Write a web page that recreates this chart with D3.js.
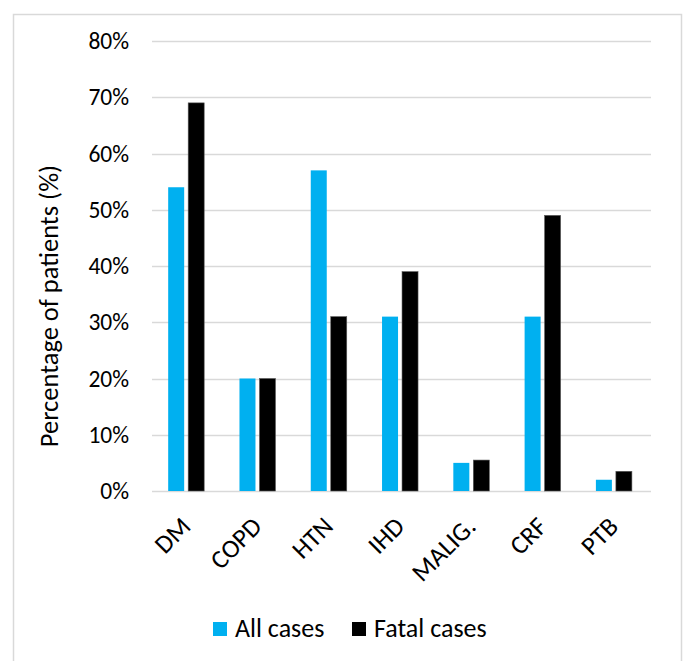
<!DOCTYPE html>
<html>
<head>
<meta charset="utf-8">
<script src="https://cdn.jsdelivr.net/npm/d3@7"></script>
<style>
  html, body { margin: 0; padding: 0; background: #fff; }
  svg { display: block; }
  text { font-family: Carlito, Lato, "Open Sans", sans-serif; fill: #000; }
</style>
</head>
<body>
<script>
// Comorbidities among all admitted patients vs. fatal cases
const categories = ["DM", "COPD", "HTN", "IHD", "MALIG.", "CRF", "PTB"];
const seriesNames = ["All cases", "Fatal cases"];
const allCases = [54, 20, 57, 31, 5, 31, 2];
const fatalCases = [69, 20, 31, 39, 5.5, 49, 3.5];
const yTicks = [0, 10, 20, 30, 40, 50, 60, 70, 80];
const colors = ["#00B0F0", "#000000"];

const W = 684, H = 661;
const FONT = "Carlito, Lato, 'Open Sans', sans-serif";
const margin = { left: 152, right: 33, top: 41 };
const baseY = 491;

const svg = d3.select("body").append("svg")
  .attr("width", W).attr("height", H);

// chart frame
svg.append("rect")
  .attr("x", 13.5).attr("y", 14.5)
  .attr("width", 668).attr("height", 660)
  .attr("fill", "#fff").attr("stroke", "#d9d9d9").attr("stroke-width", 1.5);

const x = d3.scaleBand().domain(categories)
  .range([margin.left, W - margin.right]).paddingInner(0).paddingOuter(0);
const y = d3.scaleLinear().domain([0, 80]).range([baseY, margin.top]);
const bw = x.bandwidth();
const xs = d3.scaleBand().domain(seriesNames)
  .range([bw * 0.227, bw * 0.732]).paddingInner(0.2).paddingOuter(0);

// gridlines
svg.append("g")
  .selectAll("line").data(yTicks).join("line")
  .attr("x1", margin.left).attr("x2", W - margin.right)
  .attr("y1", d => Math.round(y(d)) + 0.5).attr("y2", d => Math.round(y(d)) + 0.5)
  .attr("stroke", "#d9d9d9").attr("stroke-width", 1.5);

// y axis labels
const yAxis = d3.axisLeft(y).tickValues(yTicks).tickFormat(d => d + "%").tickSize(0).tickPadding(0);
const gy = svg.append("g").attr("transform", `translate(${margin.left - 23},0)`).call(yAxis);
gy.select(".domain").remove();
gy.selectAll("text").style("font-size", "23.5px").style("font-family", FONT).attr("fill", "#000");

// bars
const series = [allCases, fatalCases];
series.forEach((vals, si) => {
  svg.append("g").selectAll("rect").data(vals).join("rect")
    .attr("x", (d, i) => x(categories[i]) + xs(seriesNames[si]))
    .attr("width", xs.bandwidth())
    .attr("y", d => y(d))
    .attr("height", d => y(0) - y(d))
    .attr("fill", colors[si])
    .attr("stroke", si === 1 ? "#595959" : "none")
    .attr("stroke-width", si === 1 ? 0.6 : 0);
});

// x axis labels, rotated 45°
const xAxis = d3.axisBottom(x).tickSize(0).tickPadding(0);
const gx = svg.append("g").attr("transform", `translate(0,${y(0)})`).call(xAxis);
gx.select(".domain").remove();
gx.selectAll("text")
  .style("font-size", "26px").style("font-family", FONT)
  .attr("fill", "#000")
  .attr("text-anchor", "end")
  .attr("dy", null)
  .attr("y", 0)
  .attr("transform", "translate(4.5,37) rotate(-45)");

// y axis title
svg.append("text")
  .attr("transform", "translate(58,306) rotate(-90)")
  .attr("text-anchor", "middle")
  .style("font-size", "26.5px")
  .text("Percentage of patients (%)");

// legend
const legend = [{ name: seriesNames[0], x: 213 }, { name: seriesNames[1], x: 352 }];
legend.forEach((l, i) => {
  svg.append("rect").attr("x", l.x).attr("y", 622).attr("width", 14).attr("height", 14).attr("fill", colors[i]);
  svg.append("text").attr("x", l.x + 22).attr("y", 637).style("font-size", "26px").text(l.name);
});
</script>
</body>
</html>
